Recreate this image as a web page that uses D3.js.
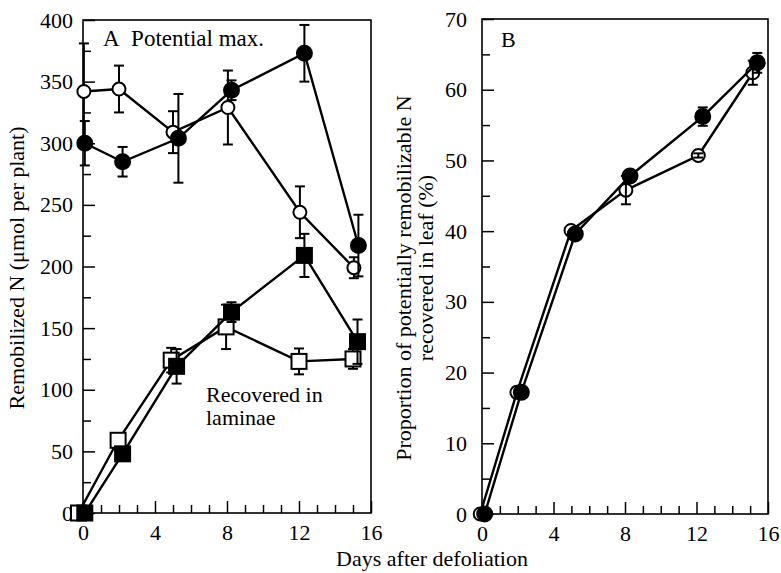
<!DOCTYPE html>
<html><head><meta charset="utf-8">
<script src="https://cdn.jsdelivr.net/npm/d3@7"></script>
<style>
body{margin:0;background:#fff;}
svg text{font-family:"Liberation Serif","Times New Roman",serif;fill:#000;}
</style></head>
<body><svg id="c" width="781" height="573"></svg>
<script>
// ---- Panel A data (Remobilized N, µmol per plant) ----
const aOpenCircleDays = [0.05, 2, 5, 8.05, 12.05, 15.05];
const aOpenCircleVals = [342, 344, 309, 329, 244, 199];
const aOpenCircleErr  = [39, 19, 17, 30, 21, 8.5];
const aFilledCircleDays = [0.1, 2.2, 5.3, 8.25, 12.3, 15.3];
const aFilledCircleVals = [300, 285, 304, 343, 373, 217];
const aFilledCircleErr  = [18, 12, 36, 8, 23, 25];
const aOpenSquareDays = [-0.25, 1.95, 4.9, 7.95, 12.0, 15.0];
const aOpenSquareVals = [0, 59, 124, 151, 123, 125];
const aOpenSquareErr  = [0, 0, 10, 18, 10.5, 8];
const aFilledSquareDays = [0.1, 2.2, 5.2, 8.25, 12.3, 15.25];
const aFilledSquareVals = [0, 48, 119, 163, 209, 139];
const aFilledSquareErr  = [0, 0, 14, 8, 17.5, 18];
// ---- Panel B data (% recovered in leaf) ----
const bOpenDays = [-0.1, 1.95, 4.98, 8.05, 12.1, 15.15];
const bOpenVals = [0, 17.2, 40.1, 45.8, 50.7, 62.4];
const bOpenErr  = [0, 0, 0, 2.0, 0.3, 1.7];
const bFilledDays = [0.15, 2.2, 5.22, 8.28, 12.35, 15.4];
const bFilledVals = [0, 17.2, 39.6, 47.8, 56.2, 63.8];
const bFilledErr  = [0, 0, 0, 0.5, 1.3, 1.4];
// ---- ticks / labels ----
const xMajorTicks = [0, 4, 8, 12, 16];
const xMinorTicks = d3.range(0, 17, 1);
const aYMajorTicks = [0, 50, 100, 150, 200, 250, 300, 350, 400];
const aYMinorTicks = d3.range(25, 400, 50);
const bYMajorTicks = [0, 10, 20, 30, 40, 50, 60, 70];
const bYMinorTicks = d3.range(5, 70, 10);
const aTitle = "A\u00a0 Potential max.";
const aNote = ["Recovered in", "laminae"];
const bTitle = "B";
const aYLabel = "Remobilized N (\u03bcmol per plant)";
const bYLabel = ["Proportion of potentially remobilizable N", "recovered in leaf (%)"];
const xLabel = "Days after defoliation";

const svg = d3.select("#c");
const FS = 22;
const SERIF = '"Liberation Serif","Times New Roman",serif';

function zip(xs, ys, es){ return xs.map((x,i)=>({x, y: ys[i], e: es[i]})); }

function panel(o){
  const g = svg.append("g");
  const x = d3.scaleLinear().domain([0,16]).range([o.left, o.right]);
  const y = d3.scaleLinear().domain([0,o.ymax]).range([o.bottom, o.top]);
  g.append("g").attr("transform",`translate(0,${o.bottom})`)
    .call(d3.axisBottom(x).tickValues(xMinorTicks.filter(v=>!xMajorTicks.includes(v))).tickSize(-8).tickSizeOuter(0).tickFormat(""))
    .call(s=>s.select(".domain").remove());
  g.append("g").attr("transform",`translate(${o.left},0)`)
    .call(d3.axisLeft(y).tickValues(o.yMinor).tickSize(-8).tickSizeOuter(0).tickFormat(""))
    .call(s=>s.select(".domain").remove());
  const xa = g.append("g").attr("transform",`translate(0,${o.bottom})`)
    .call(d3.axisBottom(x).tickValues(xMajorTicks).tickSize(-12).tickSizeOuter(0).tickPadding(11).tickFormat(d3.format("d")));
  const ya = g.append("g").attr("transform",`translate(${o.left},0)`)
    .call(d3.axisLeft(y).tickValues(o.yMajor).tickSize(-12).tickSizeOuter(0).tickPadding(o.ypad).tickFormat(d3.format("d")));
  [xa, ya].forEach(a=>{
    a.attr("font-family",SERIF).attr("font-size",FS);
    a.select(".domain").remove();
    a.selectAll("text").attr("font-size",FS).attr("font-family",SERIF);
  });
  g.selectAll(".tick line").attr("stroke","#000").attr("stroke-width",1.5);
  g.append("rect").attr("x",o.left).attr("y",o.top).attr("width",o.right-o.left).attr("height",o.bottom-o.top)
    .attr("fill","none").attr("stroke","#000").attr("stroke-width",1.6);
  return {g,x,y};
}

function drawSeries(p, data, shape, filled, errAbove){
  const {g,x,y} = p;
  const line = d3.line().x(d=>x(d.x)).y(d=>y(d.y));
  g.append("path").datum(data).attr("d",line).attr("fill","none").attr("stroke","#000").attr("stroke-width",2.4);
  const eg = g.append("g");
  const errs = data.filter(d=>d.e>0);
  const drawErr = ()=>{
    errs.forEach(d=>{
      const cx = x(d.x), y1 = y(d.y+d.e), y2 = y(d.y-d.e);
      eg.append("line").attr("x1",cx).attr("x2",cx).attr("y1",y1).attr("y2",y2).attr("stroke","#000").attr("stroke-width",2);
      [y1,y2].forEach(yy=>eg.append("line").attr("x1",cx-5).attr("x2",cx+5).attr("y1",yy).attr("y2",yy).attr("stroke","#000").attr("stroke-width",2));
    });
  };
  if(!errAbove) drawErr();
  const mg = g.append("g");
  data.forEach(d=>{
    const cx = x(d.x), cy = y(d.y);
    if(shape==="circle"){
      mg.append("circle").attr("cx",cx).attr("cy",cy).attr("r",filled?7.5:6.5)
        .attr("fill",filled?"#000":"#fff").attr("stroke","#000").attr("stroke-width",2);
    } else {
      const s = 15;
      mg.append("rect").attr("x",cx-s/2).attr("y",cy-s/2).attr("width",s).attr("height",s)
        .attr("fill",filled?"#000":"#fff").attr("stroke","#000").attr("stroke-width",2);
    }
  });
  if(errAbove){ eg.raise(); drawErr(); }
}

// Panel A
const pA = panel({left:83,right:371,top:20,bottom:513,ymax:400,yMajor:aYMajorTicks,yMinor:aYMinorTicks,ypad:10});
drawSeries(pA, zip(aOpenSquareDays,aOpenSquareVals,aOpenSquareErr),"square",false,false);
drawSeries(pA, zip(aFilledSquareDays,aFilledSquareVals,aFilledSquareErr),"square",true,false);
drawSeries(pA, zip(aOpenCircleDays,aOpenCircleVals,aOpenCircleErr),"circle",false,false);
drawSeries(pA, zip(aFilledCircleDays,aFilledCircleVals,aFilledCircleErr),"circle",true,false);
pA.g.append("text").attr("x",103).attr("y",46).attr("font-size",23).text(aTitle);
pA.g.append("text").attr("x",206).attr("y",402).attr("font-size",FS).text(aNote[0]);
pA.g.append("text").attr("x",206).attr("y",425).attr("font-size",FS).text(aNote[1]);

// Panel B
const pB = panel({left:482,right:768,top:19,bottom:514,ymax:70,yMajor:bYMajorTicks,yMinor:bYMinorTicks,ypad:15});
drawSeries(pB, zip(bOpenDays,bOpenVals,bOpenErr),"circle",false,true);
drawSeries(pB, zip(bFilledDays,bFilledVals,bFilledErr),"circle",true,true);
pB.g.append("text").attr("x",501).attr("y",47).attr("font-size",FS).text(bTitle);

// Axis titles
svg.append("text").attr("transform","translate(24,268) rotate(-90)").attr("text-anchor","middle").attr("font-size",FS).text(aYLabel);
svg.append("text").attr("transform","translate(411,278) rotate(-90)").attr("text-anchor","middle").attr("font-size",FS).text(bYLabel[0]);
svg.append("text").attr("transform","translate(433,268) rotate(-90)").attr("text-anchor","middle").attr("font-size",FS).text(bYLabel[1]);
svg.append("text").attr("x",432).attr("y",566).attr("text-anchor","middle").attr("font-size",FS).text(xLabel);
</script></body></html>
